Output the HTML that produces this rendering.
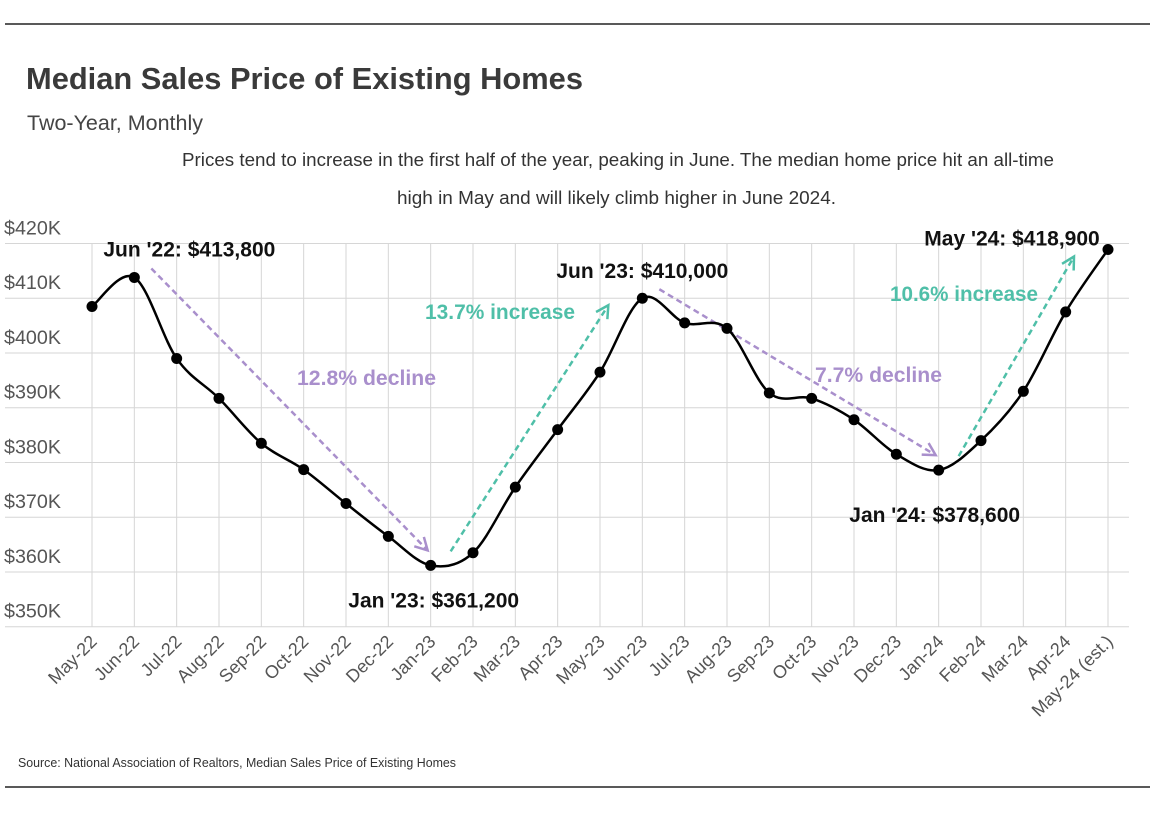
<!DOCTYPE html>
<html><head><meta charset="utf-8">
<style>
html,body{margin:0;padding:0;background:#fff;}
body{width:1170px;height:822px;overflow:hidden;}
svg text{font-family:"Liberation Sans Narrow","Liberation Sans",sans-serif;}
</style></head>
<body>
<svg id="chart" width="1170" height="822" viewBox="0 0 1170 822" xmlns="http://www.w3.org/2000/svg">
<line x1="5" y1="24" x2="1150" y2="24" stroke="#222" stroke-width="1.5"/>
<line x1="5" y1="787" x2="1150" y2="787" stroke="#222" stroke-width="1.5"/>
<text x="26" y="89" font-size="31" font-weight="bold" fill="#3a3a3a" textLength="557" lengthAdjust="spacingAndGlyphs">Median Sales Price of Existing Homes</text>
<text x="27" y="130" font-size="21" fill="#444" textLength="176" lengthAdjust="spacingAndGlyphs">Two-Year, Monthly</text>
<text x="182" y="166" font-size="18" fill="#333" textLength="872" lengthAdjust="spacingAndGlyphs">Prices tend to increase in the first half of the year, peaking in June. The median home price hit an all-time</text>
<text x="397" y="204" font-size="18" fill="#333" textLength="439" lengthAdjust="spacingAndGlyphs">high in May and will likely climb higher in June 2024.</text>
<g id="grid"></g>
<g id="arrows"></g>
<g id="series"></g>
<g id="labels"></g>
<text x="18" y="767" font-size="13" fill="#333" textLength="438" lengthAdjust="spacingAndGlyphs">Source:  National Association of Realtors, Median Sales Price of Existing Homes</text>
</svg>
<script>
const categories=["May-22","Jun-22","Jul-22","Aug-22","Sep-22","Oct-22","Nov-22","Dec-22","Jan-23","Feb-23","Mar-23","Apr-23","May-23","Jun-23","Jul-23","Aug-23","Sep-23","Oct-23","Nov-23","Dec-23","Jan-24","Feb-24","Mar-24","Apr-24","May-24 (est.)"];
const prices=[408.5,413.8,399,391.7,383.5,378.7,372.5,366.5,361.2,363.5,375.5,386,396.5,410,405.5,404.5,392.7,391.7,387.8,381.5,378.6,384,393,407.5,418.9];
const yTicks=[350,360,370,380,390,400,410,420];
const yTickLabels=["$350K","$360K","$370K","$380K","$390K","$400K","$410K","$420K"];
const callouts=[{i:1,text:"Jun '22: $413,800",dx:55,dy:-21},{i:13,text:"Jun '23: $410,000",dx:0,dy:-20},{i:24,text:"May '24: $418,900",dx:-96,dy:-4},{i:8,text:"Jan '23: $361,200",dx:3,dy:42},{i:20,text:"Jan '24: $378,600",dx:-4,dy:52}];
const trends=[{a:1,b:8,text:"12.8% decline",c:"#a98fcc",lx:297,ly:385,lw:139},{a:8,b:13,text:"13.7% increase",c:"#4fbfa8",lx:425,ly:319,lw:150},{a:13,b:20,text:"7.7% decline",c:"#a98fcc",lx:815,ly:382,lw:127},{a:20,b:24,text:"10.6% increase",c:"#4fbfa8",lx:890,ly:301,lw:148}];

const NS="http://www.w3.org/2000/svg";
const x0=92,x1=1108,yMin=350,yMax=420,py0=626.7,py1=243.5;
const xs=i=>x0+(x1-x0)*i/(categories.length-1);
const ys=v=>py0-(v-yMin)/(yMax-yMin)*(py0-py1);
function mk(tag,attrs,parent){const e=document.createElementNS(NS,tag);for(const k in attrs)e.setAttribute(k,attrs[k]);parent.appendChild(e);return e;}
const grid=document.getElementById('grid');
yTicks.forEach((t,k)=>{
  const l=mk('line',{x1:5,x2:1129,y1:ys(t),y2:ys(t),stroke:'#d6d6d6','stroke-width':1},grid);
  
  
  const tx=mk('text',{x:4,y:ys(t)-9,'font-size':19,fill:'#555',textLength:57,lengthAdjust:'spacingAndGlyphs'},grid);
  tx.textContent=yTickLabels[k];
  
  
});
categories.forEach((c,i)=>{
  const l=mk('line',{x1:xs(i),x2:xs(i),y1:py1,y2:py0,stroke:'#d6d6d6','stroke-width':1},grid);
  
  
  const tx=mk('text',{x:xs(i)+6,y:py0+16,'font-size':18,fill:'#555','text-anchor':'end',transform:`rotate(-45 ${xs(i)+6} ${py0+16})`},grid);
  tx.textContent=c;
  
  
});
const ar=document.getElementById('arrows');
trends.forEach(t=>{
  const up=prices[t.b]>prices[t.a];
  const sx=up?xs(t.a)+20:xs(t.a)+17, sy=up?ys(prices[t.a])-14:ys(prices[t.a])-9;
  const ex=up?xs(t.b)-34:xs(t.b)-3, ey=up?ys(prices[t.b])+7:ys(prices[t.b])-15;
  const l=mk('line',{x1:sx,y1:sy,x2:ex,y2:ey,stroke:t.c,'stroke-width':2.5,'stroke-dasharray':'6 4'},ar);
  
  
  const ang=Math.atan2(ey-sy,ex-sx);
  const h=14;
  const p=[[ex-h*Math.cos(ang-0.5),ey-h*Math.sin(ang-0.5)],[ex,ey],[ex-h*Math.cos(ang+0.5),ey-h*Math.sin(ang+0.5)]];
  const hd=mk('polyline',{points:p.map(q=>q.join(',')).join(' '),fill:'none',stroke:t.c,'stroke-width':2.5},ar);
  
  
  const tx=mk('text',{x:t.lx,y:t.ly,'font-size':21,'font-weight':'bold',fill:t.c,textLength:t.lw,lengthAdjust:'spacingAndGlyphs'},ar);
  tx.textContent=t.text;
  
  
});
const pts=prices.map((v,i)=>[xs(i),ys(v)]);
let d=`M${pts[0][0]},${pts[0][1]}`;
for(let i=0;i<pts.length-1;i++){
  const p0=pts[Math.max(0,i-1)],p1=pts[i],p2=pts[i+1],p3=pts[Math.min(pts.length-1,i+2)];
  const k=6;
  d+=` C${p1[0]+(p2[0]-p0[0])/k},${p1[1]+(p2[1]-p0[1])/k} ${p2[0]-(p3[0]-p1[0])/k},${p2[1]-(p3[1]-p1[1])/k} ${p2[0]},${p2[1]}`;
}
const se=document.getElementById('series');
const path=mk('path',{d:d,fill:'none',stroke:'#000','stroke-width':2.5},se);


pts.forEach(p=>{
  const c=mk('circle',{cx:p[0],cy:p[1],r:5.5,fill:'#000'},se);
  
  
});
const lb=document.getElementById('labels');
callouts.forEach(c=>{
  const tx=mk('text',{x:xs(c.i)+c.dx,y:ys(prices[c.i])+c.dy,'font-size':21,'font-weight':'bold',fill:'#111','text-anchor':'middle'},lb);
  tx.textContent=c.text;
  
  
});
</script>
</body></html>
